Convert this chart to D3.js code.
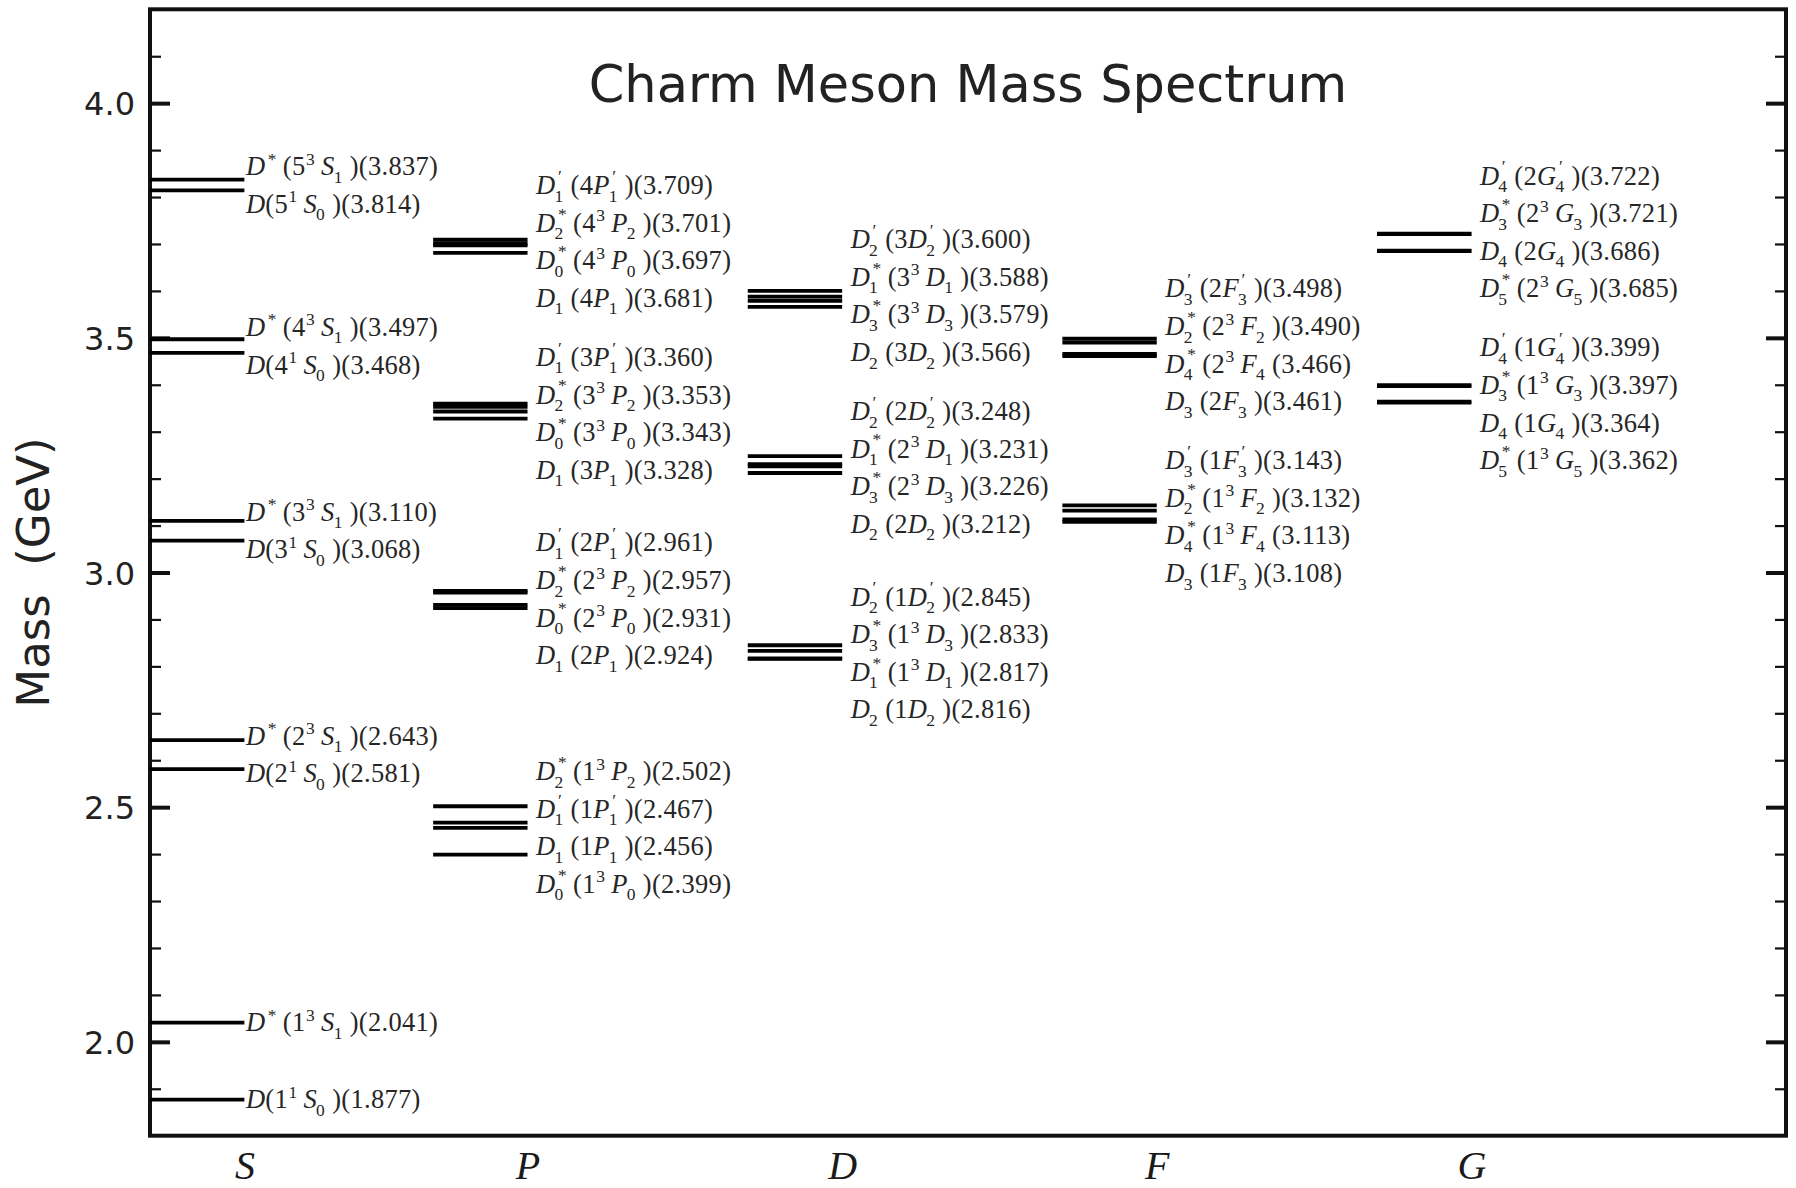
<!DOCTYPE html>
<html><head><meta charset="utf-8">
<script src="https://cdn.jsdelivr.net/npm/d3@7"></script>
<style>
html,body{margin:0;padding:0;background:#fff;}
svg{display:block;}
</style></head><body>
<svg id="chart" width="1796" height="1188"></svg>
<script>
// ---------------- data ----------------
const waves = ["S", "P", "D", "F", "G"];
const waveX = [0.3, 1.2, 2.2, 3.2, 4.2];          // x data coordinate of each partial wave column
const yMajorTicks = [2.0, 2.5, 3.0, 3.5, 4.0];

const sStates = ["D^*(5^3S_1)", "D(5^1S_0)", "D^*(4^3S_1)", "D(4^1S_0)", "D^*(3^3S_1)",
                 "D(3^1S_0)", "D^*(2^3S_1)", "D(2^1S_0)", "D^*(1^3S_1)", "D(1^1S_0)"];
const sMasses = [3.837, 3.814, 3.497, 3.468, 3.110, 3.068, 2.643, 2.581, 2.041, 1.877];

const pStates = ["D'_1(4P'_1)", "D_2^*(4^3P_2)", "D_0^*(4^3P_0)", "D_1(4P_1)",
                 "D'_1(3P'_1)", "D_2^*(3^3P_2)", "D_0^*(3^3P_0)", "D_1(3P_1)",
                 "D'_1(2P'_1)", "D_2^*(2^3P_2)", "D_0^*(2^3P_0)", "D_1(2P_1)",
                 "D_2^*(1^3P_2)", "D'_1(1P'_1)", "D_1(1P_1)", "D_0^*(1^3P_0)"];
const pMasses = [3.709, 3.701, 3.697, 3.681, 3.360, 3.353, 3.343, 3.328,
                 2.961, 2.957, 2.931, 2.924, 2.502, 2.467, 2.456, 2.399];

const dStates = ["D'_2(3D'_2)", "D_1^*(3^3D_1)", "D_3^*(3^3D_3)", "D_2(3D_2)",
                 "D'_2(2D'_2)", "D_1^*(2^3D_1)", "D_3^*(2^3D_3)", "D_2(2D_2)",
                 "D'_2(1D'_2)", "D_3^*(1^3D_3)", "D_1^*(1^3D_1)", "D_2(1D_2)"];
const dMasses = [3.600, 3.588, 3.579, 3.566, 3.248, 3.231, 3.226, 3.212,
                 2.845, 2.833, 2.817, 2.816];

const fStates = ["D'_3(2F'_3)", "D_2^*(2^3F_2)", "D_4^*(2^3F_4", "D_3(2F_3)",
                 "D'_3(1F'_3)", "D_2^*(1^3F_2)", "D_4^*(1^3F_4", "D_3(1F_3)"];
const fMasses = [3.498, 3.490, 3.466, 3.461, 3.143, 3.132, 3.113, 3.108];

const gStates = ["D'_4(2G'_4)", "D_3^*(2^3G_3)", "D_4(2G_4)", "D_5^*(2^3G_5)",
                 "D'_4(1G'_4)", "D_3^*(1^3G_3)", "D_4(1G_4)", "D_5^*(1^3G_5)"];
const gMasses = [3.722, 3.721, 3.686, 3.685, 3.399, 3.397, 3.364, 3.362];

// ---------------- setup ----------------
const stateLists = [sStates, pStates, dStates, fStates, gStates];
const massLists  = [sMasses, pMasses, dMasses, fMasses, gMasses];

const mLeft = 150, mRight = 1786, mTop = 9.3, mBottom = 1135.7;
const barWidth = 0.3;             // data units
const labelGap = 37.6;            // px between stacked labels
const groupGap = 59;              // px min distance between label groups
const labelFont = 26.5;
const svg = d3.select("#chart");

const x = d3.scaleLinear().domain([0, 5.2]).range([mLeft, mRight]);
const y = d3.scaleLinear().domain([1.8, 4.2]).range([mBottom, mTop]);

const yMinorTicks = d3.range(19, 42).map(v => v / 10).filter(v => !yMajorTicks.some(m => Math.abs(m - v) < 1e-9));

// ---------------- axes ----------------
const sansFont = "'DejaVu Sans', Verdana, sans-serif";
const serifFont = "'Liberation Serif', 'Times New Roman', serif";

function styleAxis(g, w) {
  g.select(".domain").remove();
  g.selectAll(".tick line").attr("stroke", "#111").attr("stroke-width", w);
}
svg.append("g").attr("transform", `translate(${mLeft},0)`)
  .call(d3.axisLeft(y).tickValues(yMinorTicks).tickSize(-11).tickFormat(""))
  .call(g => styleAxis(g, 2.2));
svg.append("g").attr("transform", `translate(${mRight},0)`)
  .call(d3.axisRight(y).tickValues(yMinorTicks).tickSize(-11).tickFormat(""))
  .call(g => styleAxis(g, 2.2));
svg.append("g").attr("transform", `translate(${mRight},0)`)
  .call(d3.axisRight(y).tickValues(yMajorTicks).tickSize(-20).tickFormat(""))
  .call(g => styleAxis(g, 4));
const yAx = svg.append("g").attr("transform", `translate(${mLeft},0)`)
  .call(d3.axisLeft(y).tickValues(yMajorTicks).tickSize(-20).tickPadding(15).tickFormat(d3.format(".1f")))
  .call(g => styleAxis(g, 4));
yAx.selectAll(".tick text")
  .attr("font-family", sansFont).attr("font-size", 32).attr("fill", "#222")
  .attr("dy", "0.36em");

const xAx = svg.append("g").attr("transform", `translate(0,${mBottom})`)
  .call(d3.axisBottom(x).tickValues(waveX).tickSize(0).tickPadding(15).tickFormat((d, i) => waves[i]));
xAx.select(".domain").remove();
xAx.selectAll(".tick text")
  .attr("font-family", serifFont).attr("font-style", "italic")
  .attr("font-size", 40).attr("fill", "#1a1a1a");

// frame
svg.append("rect").attr("x", mLeft).attr("y", mTop)
  .attr("width", mRight - mLeft).attr("height", mBottom - mTop)
  .attr("fill", "none").attr("stroke", "#111").attr("stroke-width", 4);

// title & y label
svg.append("text").attr("x", (mLeft + mRight) / 2).attr("y", 102)
  .attr("text-anchor", "middle").attr("font-family", sansFont)
  .attr("font-size", 51).attr("fill", "#222")
  .text("Charm Meson Mass Spectrum");

svg.append("text").attr("transform", `translate(49,${(mTop + mBottom) / 2}) rotate(-90)`)
  .attr("text-anchor", "middle").attr("font-family", sansFont)
  .attr("font-size", 45).attr("fill", "#222")
  .attr("xml:space", "preserve").style("white-space", "pre")
  .text("Mass  (GeV)");

// ---------------- levels ----------------
const levels = svg.append("g");
const labelsLayer = svg.append("g").attr("font-family", serifFont).attr("fill", "#262626")
  .attr("letter-spacing", 0.3);

function parseMath(str) {
  const atoms = [];
  for (let i = 0; i < str.length; i++) {
    const c = str[i];
    const last = atoms[atoms.length - 1];
    if (c === "^") { last.sup = str[i + 1]; i++; }
    else if (c === "_") { last.sub = str[i + 1]; i++; }
    else if (c === "'") { last.sup = "\u2032"; }
    else atoms.push({ base: c, italic: /[A-Z]/.test(c) });
  }
  return atoms;
}

// one <text> per label, pieces as absolutely positioned <tspan>s
function drawLabel(px, py, str) {
  const t = labelsLayer.append("text").attr("x", px).attr("y", py)
    .attr("font-size", labelFont).attr("xml:space", "preserve");
  let cx = px;
  const put = (txt, italic, size, dy, dx) => {
    const s = t.append("tspan").attr("x", cx + (dx || 0)).attr("y", py + dy)
      .attr("font-size", size).attr("font-style", italic ? "italic" : "normal")
      .text(txt);
    return s.node().getComputedTextLength();
  };
  const atoms = parseMath(str);
  let run = "", runItalic = false;
  const flush = () => { if (run) { cx += put(run, runItalic, labelFont, 0); run = ""; } };
  const small = labelFont * 0.66;
  atoms.forEach(a => {
    if (a.sup || a.sub) {
      flush();
      cx += put(a.base, a.italic, labelFont, 0);
      let sw = 0, bw = 0;
      const stacked = a.sup && a.sub;
      const italicShift = a.italic ? 2.5 : 0.5;
      if (a.sup) sw = put(a.sup, false, small, stacked ? -12.2 : -10.5, italicShift) + italicShift;
      if (a.sub) bw = put(a.sub, false, small, 7.5, a.italic ? -1 : 0);
      cx += Math.max(sw, bw) + 6;
    } else {
      if (run && a.italic !== runItalic) flush();
      if (!run) runItalic = a.italic;
      run += a.base;
    }
  });
  flush();
}

function layoutLabels(ys, gap, gGap) {
  let clusters = ys.map((v, i) => ({ idx: [i], shift: 0 }));
  const center = c => d3.mean(c.idx, i => ys[i]) + c.shift;
  let merged = true;
  while (merged) {
    merged = false;
    for (let k = 0; k < clusters.length - 1; k++) {
      const a = clusters[k], b = clusters[k + 1];
      const aBottom = center(a) + (a.idx.length - 1) / 2 * gap;
      const bTop = center(b) - (b.idx.length - 1) / 2 * gap;
      if (bTop - aBottom < gap) {
        clusters.splice(k, 2, { idx: a.idx.concat(b.idx), shift: 0 });
        merged = true; break;
      }
    }
  }
  // push neighbouring groups apart
  for (let it = 0; it < 60; it++) {
    let moved = false;
    for (let k = 0; k < clusters.length - 1; k++) {
      const a = clusters[k], b = clusters[k + 1];
      const aBottom = center(a) + (a.idx.length - 1) / 2 * gap;
      const bTop = center(b) - (b.idx.length - 1) / 2 * gap;
      const need = gGap - (bTop - aBottom);
      if (need > 0.01) { a.shift -= need / 2; b.shift += need / 2; moved = true; }
    }
    if (!moved) break;
  }
  const out = new Array(ys.length);
  clusters.forEach(c => {
    const m = center(c), n = c.idx.length;
    c.idx.forEach((i, j) => { out[i] = m + (j - (n - 1) / 2) * gap; });
  });
  return out;
}

waves.forEach((w, wi) => {
  const items = stateLists[wi].map((s, i) => ({ name: s, mass: massLists[wi][i] }))
    .sort((a, b) => b.mass - a.mass);
  const xr = waveX[wi];
  levels.selectAll(null).data(items).join("line")
    .attr("x1", d => x(xr - barWidth)).attr("x2", d => x(xr))
    .attr("y1", d => y(d.mass)).attr("y2", d => y(d.mass))
    .attr("stroke", "#000").attr("stroke-width", 3.8);
  const ly = layoutLabels(items.map(d => y(d.mass)), labelGap, groupGap);
  const pad = wi === 0 ? 1.5 : 8.5;
  items.forEach((d, i) => {
    drawLabel(x(xr) + pad, ly[i] + labelFont * 0.33, d.name + "(" + d.mass.toFixed(3) + ")");
  });
});
</script>
</body></html>
